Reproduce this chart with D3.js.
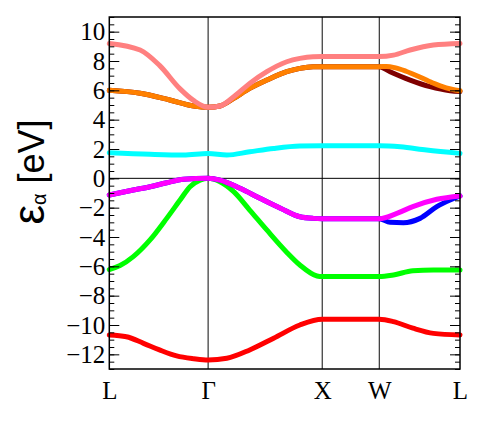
<!DOCTYPE html>
<html>
<head>
<meta charset="utf-8">
<script src="https://cdn.jsdelivr.net/npm/d3@7"></script>
<style>
  body { margin: 0; background: #fff; }
  svg { display: block; }
</style>
</head>
<body>
<svg width="480" height="436"></svg>
<script>
// k-path: L - Gamma - X - W - L (fcc, units of 2pi/a)
var kTicks = [0, 0.866, 1.866, 2.366, 3.073];
var kLabels = ["L", "\u0393", "X", "W", "L"];
var yTicks = [-12, -10, -8, -6, -4, -2, 0, 2, 4, 6, 8, 10];

// bands, [k, energy in eV]
var band1 = [[0,-10.68],[0.15,-10.8],[0.3,-11.25],[0.44,-11.7],[0.59,-12.11],[0.74,-12.3],[0.866,-12.39],
  [1.03,-12.27],[1.23,-11.7],[1.44,-10.9],[1.67,-10.0],[1.866,-9.61],[2.366,-9.61],[2.49,-9.77],
  [2.66,-10.22],[2.84,-10.57],[3.073,-10.68]];
var band2 = [[0,-6.22],[0.094,-5.95],[0.21,-5.34],[0.357,-4.2],[0.503,-2.73],[0.62,-1.48],[0.707,-0.57],
  [0.795,-0.12],[0.866,0],[0.97,-0.23],[1.09,-0.91],[1.23,-2.16],[1.38,-3.52],[1.55,-5.0],[1.67,-5.91],
  [1.82,-6.66],[1.866,-6.7],[2.366,-6.7],[2.49,-6.59],[2.66,-6.3],[2.84,-6.25],[3.073,-6.25]];
var band3 = [[0,-1.14],[0.21,-0.8],[0.357,-0.57],[0.503,-0.3],[0.65,-0.07],[0.866,0],[0.97,-0.12],
  [1.145,-0.68],[1.32,-1.36],[1.5,-2.04],[1.67,-2.62],[1.79,-2.73],[1.866,-2.75],[2.366,-2.75],
  [2.46,-3.0],[2.577,-3.03],[2.723,-2.73],[2.87,-1.93],[2.986,-1.48],[3.073,-1.2]];
var band4 = [[0,-1.14],[0.21,-0.8],[0.357,-0.57],[0.503,-0.3],[0.65,-0.07],[0.866,0],[0.97,-0.12],
  [1.145,-0.68],[1.32,-1.36],[1.5,-2.04],[1.67,-2.62],[1.79,-2.73],[1.866,-2.75],[2.366,-2.75],
  [2.52,-2.39],[2.66,-1.93],[2.87,-1.43],[3.073,-1.2]];
var band5 = [[0,1.75],[0.357,1.64],[0.65,1.59],[0.866,1.7],[1.03,1.59],[1.23,1.81],[1.44,2.04],
  [1.67,2.2],[1.866,2.22],[2.366,2.22],[2.55,2.15],[2.78,1.93],[3.073,1.7]];
var band6 = [[0,6.0],[0.27,5.8],[0.53,5.34],[0.74,4.93],[0.866,4.84],[0.97,4.93],[1.09,5.45],[1.23,6.13],
  [1.38,6.7],[1.555,7.27],[1.67,7.5],[1.785,7.61],[1.866,7.61],[2.366,7.61],[2.46,7.27],[2.636,6.7],
  [2.81,6.25],[2.986,5.97],[3.073,5.92]];
var band7 = [[0,6.0],[0.27,5.8],[0.53,5.34],[0.74,4.93],[0.866,4.84],[0.97,4.93],[1.09,5.45],[1.23,6.13],
  [1.38,6.7],[1.555,7.27],[1.67,7.5],[1.785,7.61],[1.866,7.61],[2.366,7.61],[2.43,7.63],[2.5,7.55],
  [2.6,7.3],[2.7,6.98],[2.8,6.62],[2.9,6.3],[3.0,6.07],[3.073,5.97]];
var band8 = [[0,9.2],[0.27,8.75],[0.44,7.7],[0.62,6.1],[0.74,5.3],[0.866,4.84],[0.97,4.93],[1.09,5.56],
  [1.23,6.47],[1.38,7.27],[1.555,7.95],[1.67,8.18],[1.785,8.29],[1.866,8.3],[2.366,8.3],[2.49,8.4],
  [2.636,8.75],[2.84,9.09],[3.073,9.2]];

var bands = [band1, band2, band3, band4, band5, band6, band7, band8];
var bandColors = ["#ff0000", "#00ff00", "#0000ff", "#ff00ff", "#00ffff", "#7f0000", "#ff8000", "#ff8080"];

var svg = d3.select("svg");

var pLeft = 109.3, pRight = 460, pTop = 17, pBottom = 369;

var x = d3.scaleLinear()
    .domain([0, 3.073])
    .range([pLeft, pRight]);

var y = d3.scaleLinear()
    .domain([-13, 11])
    .range([pBottom, pTop]);

// symmetry lines
svg.selectAll(".kline")
    .data(kTicks.slice(1, 4))
    .enter()
    .append("line")
    .attr("x1", function(d) { return x(d); })
    .attr("x2", function(d) { return x(d); })
    .attr("y1", pTop)
    .attr("y2", pBottom)
    .attr("stroke", "#333")
    .attr("stroke-width", 1.2);

// zero line
svg.append("line")
    .attr("x1", pLeft).attr("x2", pRight)
    .attr("y1", y(0)).attr("y2", y(0))
    .attr("stroke", "#000")
    .attr("stroke-width", 1);

var line = d3.line()
    .x(function(d) { return x(d[0]); })
    .y(function(d) { return y(d[1]); })
    .curve(d3.curveMonotoneX);

svg.selectAll(".band")
    .data(bands)
    .enter()
    .append("path")
    .attr("class", "band")
    .attr("d", line)
    .attr("fill", "none")
    .attr("stroke", function(d, i) { return bandColors[i]; })
    .attr("stroke-width", 5)
    .attr("stroke-linecap", "round")
    .attr("stroke-linejoin", "round");

// minor ticks, both sides
var minor = d3.range(-13, 11.01, 0.5);
svg.append("g")
    .attr("transform", "translate(" + pLeft + ",0)")
    .call(d3.axisLeft(y).tickValues(minor).tickSize(-5).tickFormat(""))
    .call(function(g) { g.select(".domain").remove(); });
svg.append("g")
    .attr("transform", "translate(" + pRight + ",0)")
    .call(d3.axisRight(y).tickValues(minor).tickSize(-5).tickFormat(""))
    .call(function(g) { g.select(".domain").remove(); });

// major ticks with labels
svg.append("g")
    .attr("transform", "translate(" + pLeft + ",0)")
    .call(d3.axisLeft(y).tickValues(yTicks).tickSize(-10).tickPadding(4))
    .call(function(g) {
      g.select(".domain").remove();
      g.attr("font-family", "'Liberation Serif', serif").attr("font-size", 25);
      g.selectAll("text").attr("fill", "#000");
    });
svg.append("g")
    .attr("transform", "translate(" + pRight + ",0)")
    .call(d3.axisRight(y).tickValues(yTicks).tickSize(-10).tickFormat(""))
    .call(function(g) { g.select(".domain").remove(); });

// k labels
svg.append("g")
    .attr("transform", "translate(0," + pBottom + ")")
    .call(d3.axisBottom(x).tickValues(kTicks).tickSize(0).tickPadding(12)
      .tickFormat(function(d, i) { return kLabels[i]; }))
    .call(function(g) {
      g.select(".domain").remove();
      g.attr("font-family", "'Liberation Serif', serif").attr("font-size", 25);
      g.selectAll("text").attr("fill", "#000");
    });

// frame
svg.append("rect")
    .attr("x", pLeft).attr("y", pTop)
    .attr("width", pRight - pLeft).attr("height", pBottom - pTop)
    .attr("fill", "none")
    .attr("stroke", "#000")
    .attr("stroke-width", 1.5);

// y label
var lab = svg.append("text")
    .attr("transform", "translate(44,172) rotate(-90)")
    .attr("text-anchor", "middle")
    .attr("font-family", "'Liberation Sans', Arial, sans-serif")
    .attr("font-size", 36)
    .attr("fill", "#000");
lab.append("tspan").attr("font-size", 44).text("\u03b5");
lab.append("tspan").attr("font-size", 20).attr("dy", 2).text("\u03b1");
lab.append("tspan").attr("dy", -2).text(" [eV]");
</script>
</body>
</html>
